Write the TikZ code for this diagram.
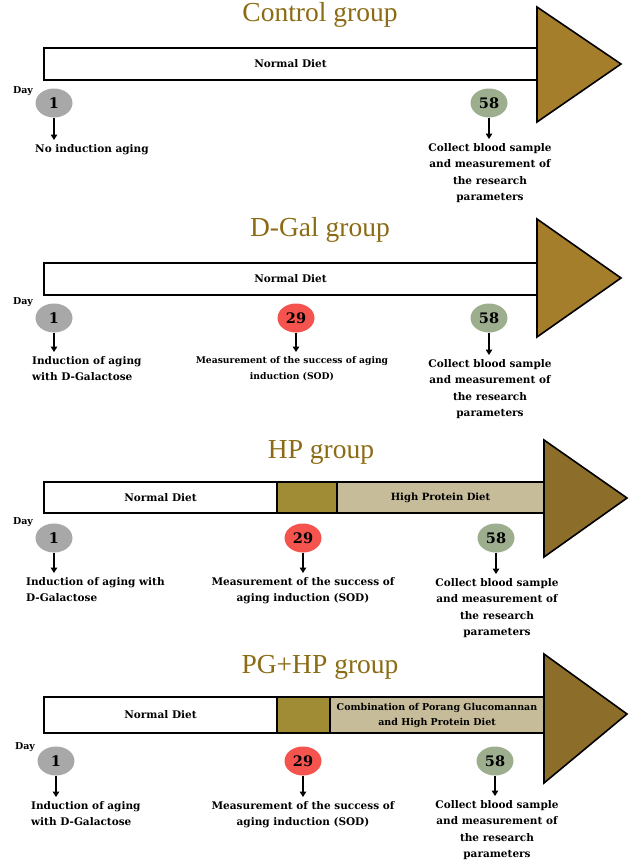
\documentclass[tikz,border=0pt]{standalone}
\usepackage{fontspec}
\setmainfont{DejaVu Serif}
\newfontfamily\titlefont{Liberation Serif}
\usetikzlibrary{shapes.geometric,arrows.meta,positioning}
\definecolor{titlebrown}{HTML}{8B6B14}
\definecolor{headlight}{HTML}{A57E2C}
\definecolor{headdark}{HTML}{8C6D2A}
\definecolor{olivebox}{HTML}{A08C35}
\definecolor{tanbox}{HTML}{C7BC99}
\definecolor{daygray}{HTML}{A8A8A8}
\definecolor{dayred}{HTML}{F5544E}
\definecolor{daygreen}{HTML}{9DAE8E}
\begin{document}
\begin{tikzpicture}[x=1pt,y=-1pt,
    title/.style={font=\titlefont\fontsize{27.5}{30}\selectfont,text=titlebrown},
    seg/.style={draw,line width=2.2pt,inner sep=0pt,outer sep=0pt,minimum height=32pt,
      align=center,font=\bfseries\fontsize{10.5}{14}\selectfont},
    head/.style={draw,line width=1.6pt,line join=miter},
    day/.style={ellipse,minimum width=37pt,minimum height=29pt,inner sep=0pt,
      font=\bfseries\fontsize{14.5}{16}\selectfont},
    daylbl/.style={font=\bfseries\fontsize{9.5}{10}\selectfont,inner sep=0pt},
    lbl/.style={inner sep=0pt,font=\bfseries\fontsize{10.5}{16.5}\selectfont},
    down/.style={-{Triangle[width=6.5pt,length=5.5pt]},line width=1.6pt,shorten >=4pt}]
    \useasboundingbox (0,0) rectangle (642,865);
    %% Control group
    \node[title] (ctltitle) at (320,15) {Control group};
    \node[seg,fill=white,minimum width=493pt,anchor=north west] (ctlnd) at (44,48) {Normal Diet};
    \draw[head,fill=headlight] (537,7) -- (621,64) -- (537,122) -- cycle;
    \node[daylbl] (ctlday) at (23,91) {Day};
    \node[day,fill=daygray] (ctl1) at (54,103) {1};
    \node[day,fill=daygreen] (ctl58) at (489,103) {58};
    \node[lbl,align=left,anchor=north west] (ctl1t) at (35,144) {No induction aging};
    \node[lbl,align=center,anchor=north] (ctl58t) at (490,143) {Collect blood sample\\and measurement of\\the research\\parameters};
    \draw[down] (ctl1.south) -- (ctl1.south |- ctl1t.north);
    \draw[down] (ctl58.south) -- (ctl58.south |- ctl58t.north);
    %% D-Gal group
    \node[title] (dgtitle) at (320,230) {D-Gal group};
    \node[seg,fill=white,minimum width=493pt,anchor=north west] (dgnd) at (44,263) {Normal Diet};
    \draw[head,fill=headlight] (537,219) -- (621,278) -- (537,337) -- cycle;
    \node[daylbl] (dgday) at (23,302) {Day};
    \node[day,fill=daygray] (dg1) at (54,318) {1};
    \node[day,fill=dayred] (dg29) at (296,318) {29};
    \node[day,fill=daygreen] (dg58) at (489,318) {58};
    \node[lbl,align=left,anchor=north west] (dg1t) at (32,356) {Induction of aging\\with D-Galactose};
    \node[lbl,align=center,anchor=north,font=\bfseries\fontsize{9.2}{16.5}\selectfont] (dg29t) at (292,356) {Measurement of the success of aging\\induction (SOD)};
    \node[lbl,align=center,anchor=north] (dg58t) at (490,359) {Collect blood sample\\and measurement of\\the research\\parameters};
    \draw[down] (dg1.south) -- (dg1.south |- dg1t.north);
    \draw[down] (dg29.south) -- (dg29.south |- dg29t.north);
    \draw[down] (dg58.south) -- (dg58.south |- dg58t.north);
    %% HP group
    \node[title] (hptitle) at (321,452) {HP group};
    \node[seg,fill=white,minimum width=233pt,minimum height=31pt,anchor=north west] (hpnd) at (44,482) {Normal Diet};
    \node[seg,fill=olivebox,minimum width=60pt,minimum height=31pt,right=0pt of hpnd] (hpgap) {};
    \node[seg,fill=tanbox,minimum width=207pt,minimum height=31pt,right=0pt of hpgap,font=\bfseries\fontsize{10}{14}\selectfont] (hphp) {High Protein Diet};
    \draw[head,fill=headdark] (544,440) -- (627,498) -- (544,557) -- cycle;
    \node[daylbl] (hpday) at (23,522) {Day};
    \node[day,fill=daygray] (hp1) at (54,538) {1};
    \node[day,fill=dayred] (hp29) at (303,538) {29};
    \node[day,fill=daygreen] (hp58) at (496,538) {58};
    \node[lbl,align=left,anchor=north west] (hp1t) at (26,577) {Induction of aging with\\D-Galactose};
    \node[lbl,align=center,anchor=north] (hp29t) at (303,577) {Measurement of the success of\\aging induction (SOD)};
    \node[lbl,align=center,anchor=north] (hp58t) at (497,578) {Collect blood sample\\and measurement of\\the research\\parameters};
    \draw[down] (hp1.south) -- (hp1.south |- hp1t.north);
    \draw[down] (hp29.south) -- (hp29.south |- hp29t.north);
    \draw[down] (hp58.south) -- (hp58.south |- hp58t.north);
    %% PG+HP group
    \node[title] (pgtitle) at (320,667) {PG+HP group};
    \node[seg,fill=white,minimum width=233pt,minimum height=36pt,anchor=north west] (pgnd) at (44,697) {Normal Diet};
    \node[seg,fill=olivebox,minimum width=53pt,minimum height=36pt,right=0pt of pgnd] (pggap) {};
    \node[seg,fill=tanbox,minimum width=214pt,minimum height=36pt,right=0pt of pggap,font=\bfseries\fontsize{9.5}{15}\selectfont] (pghp) {Combination of Porang Glucomannan\\and High Protein Diet};
    \draw[head,fill=headdark] (544,654) -- (627,714) -- (544,783) -- cycle;
    \node[daylbl] (pgday) at (25,747) {Day};
    \node[day,fill=daygray] (pg1) at (56,761) {1};
    \node[day,fill=dayred] (pg29) at (303,761) {29};
    \node[day,fill=daygreen] (pg58) at (495,761) {58};
    \node[lbl,align=left,anchor=north west] (pg1t) at (31,801) {Induction of aging\\with D-Galactose};
    \node[lbl,align=center,anchor=north] (pg29t) at (303,801) {Measurement of the success of\\aging induction (SOD)};
    \node[lbl,align=center,anchor=north] (pg58t) at (497,800) {Collect blood sample\\and measurement of\\the research\\parameters};
    \draw[down] (pg1.south) -- (pg1.south |- pg1t.north);
    \draw[down] (pg29.south) -- (pg29.south |- pg29t.north);
    \draw[down] (pg58.south) -- (pg58.south |- pg58t.north);
\end{tikzpicture}
\end{document}
